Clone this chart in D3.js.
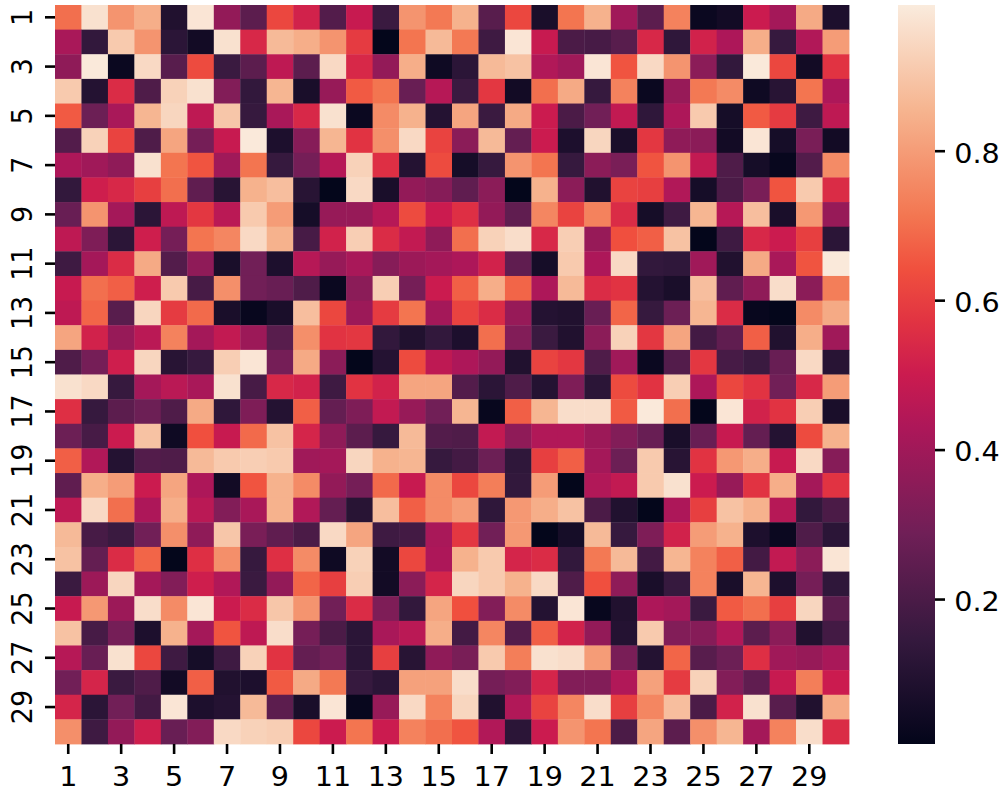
<!DOCTYPE html>
<html>
<head>
<meta charset="utf-8">
<script src="https://cdn.jsdelivr.net/npm/d3@7"></script>
<style>
html, body { margin: 0; padding: 0; background: #fff; }
svg { display: block; }
</style>
</head>
<body>
<script>
var labels = d3.range(1, 31).map(String);
var tickLabels = labels.filter(function(d, i) { return i % 2 === 0; });
var colorTicks = [0.2, 0.4, 0.6, 0.8];
var valueRange = [0.006, 0.995];
var rocketOffsets = [0, 1/7, 2/7, 3/7, 0.5, 4/7, 9/14, 5/7, 6/7, 1];
var rocketStops = ["#03051a", "#35193e", "#701f57", "#ad1759", "#cb1b4f", "#e13342", "#f0503e", "#f37651", "#f6b48f", "#faebdd"];

var row01 = [.70,.97,.78,.84,.09,.98,.37,.24,.62,.52,.22,.49,.16,.78,.72,.85,.23,.62,.07,.71,.85,.40,.24,.74,.03,.05,.50,.41,.83,.08];
var row02 = [.42,.14,.91,.78,.12,.05,.97,.54,.87,.84,.78,.59,.01,.71,.87,.72,.17,.98,.49,.20,.19,.23,.54,.13,.52,.43,.84,.15,.44,.80];
var row03 = [.36,.99,.03,.95,.23,.63,.16,.24,.47,.24,.95,.54,.37,.84,.04,.12,.87,.89,.44,.40,.98,.65,.95,.78,.35,.14,.99,.62,.05,.57];
var row04 = [.91,.10,.55,.21,.93,.97,.33,.14,.86,.07,.38,.66,.71,.27,.45,.16,.58,.05,.70,.83,.15,.74,.03,.38,.72,.76,.04,.11,.71,.43];
var row05 = [.66,.28,.42,.86,.94,.47,.90,.15,.42,.54,.97,.03,.76,.85,.10,.82,.16,.83,.50,.20,.29,.48,.13,.43,.91,.06,.66,.59,.17,.47];
var row06 = [.22,.93,.61,.21,.82,.30,.49,.99,.08,.34,.86,.57,.77,.95,.61,.35,.87,.26,.50,.08,.94,.07,.58,.36,.35,.05,.98,.06,.31,.05];
var row07 = [.43,.40,.36,.97,.71,.65,.40,.71,.15,.30,.45,.93,.56,.10,.63,.06,.15,.78,.71,.15,.35,.31,.65,.78,.48,.21,.06,.02,.22,.76];
var row08 = [.14,.51,.54,.60,.70,.25,.11,.85,.88,.11,.01,.95,.07,.37,.34,.25,.35,.01,.85,.35,.09,.61,.60,.44,.06,.20,.31,.65,.91,.55];
var row09 = [.27,.78,.41,.12,.47,.58,.46,.91,.80,.06,.38,.38,.45,.63,.50,.56,.37,.25,.75,.61,.74,.55,.06,.17,.86,.45,.88,.07,.79,.38];
var row10 = [.47,.32,.12,.51,.30,.71,.75,.95,.85,.19,.52,.92,.55,.48,.36,.70,.93,.96,.54,.92,.38,.64,.67,.89,.01,.17,.54,.50,.60,.12];
var row11 = [.17,.41,.55,.83,.22,.36,.07,.29,.08,.45,.38,.42,.34,.39,.41,.43,.52,.25,.06,.91,.43,.95,.14,.13,.40,.09,.83,.42,.65,.99];
var row12 = [.49,.70,.67,.51,.91,.19,.77,.29,.27,.21,.03,.35,.92,.30,.50,.67,.84,.68,.43,.87,.55,.57,.10,.07,.88,.25,.36,.96,.35,.73];
var row13 = [.47,.68,.23,.94,.59,.69,.07,.02,.07,.88,.62,.39,.59,.71,.41,.61,.55,.38,.10,.09,.27,.68,.15,.28,.86,.55,.02,.01,.76,.83];
var row14 = [.82,.52,.38,.46,.74,.41,.48,.39,.23,.77,.57,.58,.14,.09,.14,.08,.70,.33,.16,.09,.35,.93,.58,.82,.18,.25,.67,.09,.84,.40];
var row15 = [.21,.30,.51,.94,.11,.15,.92,.98,.30,.83,.35,.01,.10,.63,.47,.43,.37,.09,.61,.58,.21,.40,.03,.22,.58,.19,.16,.27,.95,.11];
var row16 = [.97,.95,.15,.41,.46,.42,.97,.19,.54,.52,.17,.57,.52,.82,.82,.22,.12,.21,.10,.32,.12,.63,.57,.92,.43,.62,.57,.29,.54,.80];
var row17 = [.56,.15,.24,.28,.21,.83,.13,.32,.10,.67,.26,.32,.48,.38,.29,.86,.02,.67,.86,.96,.96,.66,.99,.70,.01,.98,.52,.57,.92,.07];
var row18 = [.28,.19,.50,.89,.04,.64,.49,.69,.89,.53,.36,.24,.15,.87,.22,.21,.48,.36,.44,.44,.39,.33,.27,.07,.27,.49,.26,.10,.63,.85];
var row19 = [.67,.44,.10,.22,.21,.87,.91,.92,.91,.40,.41,.94,.85,.86,.15,.18,.28,.13,.60,.67,.41,.28,.91,.11,.57,.79,.84,.49,.95,.34];
var row20 = [.25,.84,.80,.50,.82,.43,.05,.65,.85,.76,.37,.30,.69,.49,.76,.62,.73,.14,.80,.01,.44,.48,.91,.97,.50,.38,.57,.84,.41,.57];
var row21 = [.47,.95,.70,.43,.84,.46,.33,.42,.85,.44,.26,.11,.88,.67,.76,.80,.13,.79,.84,.89,.20,.09,.01,.43,.60,.89,.85,.45,.14,.20];
var row22 = [.87,.19,.16,.29,.77,.36,.90,.31,.25,.20,.95,.82,.17,.18,.42,.58,.29,.79,.01,.06,.87,.15,.32,.52,.80,.85,.08,.03,.21,.12];
var row23 = [.89,.26,.55,.68,.01,.56,.77,.15,.56,.76,.04,.93,.05,.62,.43,.85,.91,.53,.55,.14,.72,.87,.18,.86,.74,.67,.18,.48,.35,.98];
var row24 = [.16,.39,.94,.41,.33,.51,.44,.16,.37,.68,.60,.92,.05,.35,.53,.94,.91,.85,.95,.21,.64,.36,.07,.15,.74,.07,.86,.08,.30,.13];
var row25 = [.49,.79,.39,.96,.76,.98,.50,.55,.90,.78,.29,.55,.32,.14,.82,.64,.33,.76,.10,.98,.02,.09,.43,.41,.16,.66,.70,.60,.94,.24];
var row26 = [.89,.19,.30,.08,.85,.41,.65,.47,.96,.30,.20,.12,.42,.46,.84,.18,.75,.22,.67,.52,.37,.10,.91,.33,.34,.44,.24,.35,.09,.18];
var row27 = [.45,.27,.97,.62,.17,.06,.17,.93,.57,.26,.29,.12,.60,.11,.36,.31,.91,.73,.97,.96,.80,.31,.10,.68,.23,.28,.56,.40,.38,.42];
var row28 = [.29,.53,.16,.21,.05,.67,.09,.08,.66,.83,.72,.15,.12,.81,.81,.96,.30,.33,.53,.33,.33,.44,.81,.59,.93,.33,.25,.49,.73,.50];
var row29 = [.53,.12,.29,.18,.98,.08,.10,.87,.24,.07,.98,.02,.38,.95,.74,.94,.09,.44,.61,.75,.96,.60,.75,.88,.20,.52,.97,.23,.09,.83];
var row30 = [.77,.17,.37,.51,.27,.33,.95,.93,.92,.62,.50,.71,.50,.74,.70,.65,.44,.12,.50,.78,.71,.20,.82,.24,.77,.86,.41,.74,.96,.55];
var rows = [row01,row02,row03,row04,row05,row06,row07,row08,row09,row10,
            row11,row12,row13,row14,row15,row16,row17,row18,row19,row20,
            row21,row22,row23,row24,row25,row26,row27,row28,row29,row30];

var width = 1004;
var height = 794;
var heatLeft = 55, heatRight = 849, heatTop = 5, heatBottom = 744;
var barLeft = 898, barRight = 935;
var fontSize = 27;
var textStretch = 1.06; // reference text is a little wider than tall
var fontFamily = "'DejaVu Sans', sans-serif";

var svg = d3.select("body").append("svg")
  .attr("width", width)
  .attr("height", height);

var x = d3.scaleBand().domain(labels).range([heatLeft, heatRight]);
var y = d3.scaleBand().domain(labels).range([heatTop, heatBottom]);

var color = d3.scaleLinear()
  .domain(rocketOffsets.map(function(t) {
    return valueRange[0] + (valueRange[1] - valueRange[0]) * t;
  }))
  .range(rocketStops)
  .interpolate(d3.interpolateRgb);

var cells = [];
rows.forEach(function(row, r) {
  row.forEach(function(v, c) {
    cells.push({ row: labels[r], col: labels[c], value: v });
  });
});

svg.append("g").selectAll("rect")
  .data(cells)
  .enter().append("rect")
    .attr("x", function(d) { return x(d.col); })
    .attr("y", function(d) { return y(d.row); })
    .attr("width", x.bandwidth() + 0.4)
    .attr("height", y.bandwidth() + 0.4)
    .attr("fill", function(d) { return color(d.value); });

var styleAxis = function(g) {
  g.select(".domain").remove();
  g.selectAll(".tick line").attr("stroke", "#000").attr("stroke-width", 2.6);
  g.selectAll(".tick text")
    .attr("fill", "#000")
    .attr("font-family", fontFamily)
    .attr("font-size", fontSize);
};

var xAxis = svg.append("g")
  .attr("transform", "translate(0," + heatBottom + ")")
  .call(d3.axisBottom(x).tickValues(tickLabels).tickSize(10).tickPadding(12.8))
  .call(styleAxis);
xAxis.selectAll(".tick text")
  .attr("transform", "scale(" + textStretch + ",1)");

var yAxis = svg.append("g")
  .attr("transform", "translate(" + heatLeft + ",0)")
  .call(d3.axisLeft(y).tickValues(tickLabels).tickSize(10).tickPadding(9))
  .call(styleAxis);

yAxis.selectAll(".tick text")
  .attr("transform", "scale(" + textStretch + ",1) rotate(-90)")
  .attr("text-anchor", "middle")
  .attr("x", 0)
  .attr("y", -23 / textStretch)
  .attr("dy", 0);

// colorbar
var barScale = d3.scaleLinear().domain(valueRange).range([heatBottom, heatTop]);

var defs = svg.append("defs");
var gradient = defs.append("linearGradient")
  .attr("id", "bar-gradient")
  .attr("x1", 0).attr("y1", 1)
  .attr("x2", 0).attr("y2", 0);
rocketStops.forEach(function(c, i) {
  gradient.append("stop")
    .attr("offset", rocketOffsets[i])
    .attr("stop-color", c);
});

svg.append("rect")
  .attr("x", barLeft)
  .attr("y", heatTop)
  .attr("width", barRight - barLeft)
  .attr("height", heatBottom - heatTop)
  .attr("fill", "url(#bar-gradient)");

var barAxis = svg.append("g")
  .attr("transform", "translate(" + barRight + ",0)")
  .call(d3.axisRight(barScale).tickValues(colorTicks).tickFormat(d3.format(".1f")).tickSize(10).tickPadding(8.1))
  .call(styleAxis);
barAxis.selectAll(".tick text")
  .attr("transform", "scale(" + textStretch + ",1)")
  .attr("dy", "0.42em");
</script>
</body>
</html>
